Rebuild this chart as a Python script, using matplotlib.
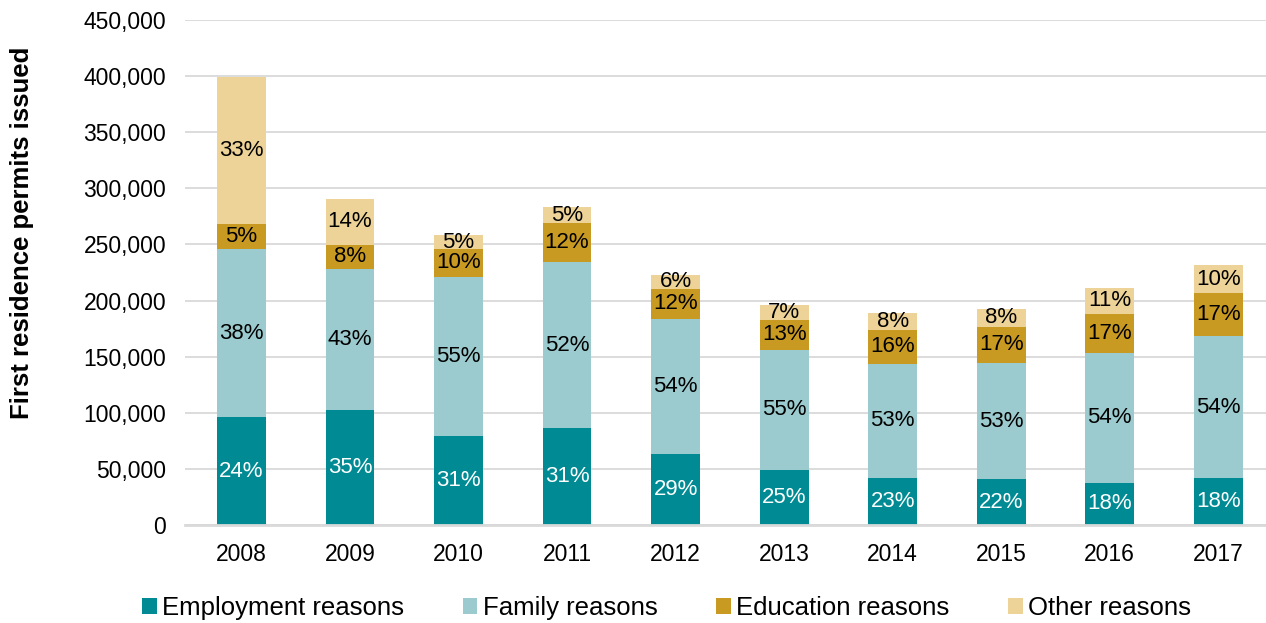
import matplotlib
matplotlib.use("Agg")
import matplotlib.pyplot as plt
from matplotlib.patches import Patch
from matplotlib.ticker import FuncFormatter
import numpy as np

plt.rcParams['font.family'] = ['Liberation Sans', 'DejaVu Sans']

years = ['2008', '2009', '2010', '2011', '2012', '2013', '2014', '2015', '2016', '2017']
series_names = ['Employment reasons', 'Family reasons', 'Education reasons', 'Other reasons']

employment = [95800, 102300, 78900, 86000, 63500, 49100, 42300, 40800, 37500, 42000]
family = [150500, 125900, 142500, 148500, 120100, 107150, 101450, 103200, 115800, 126200]
education = [21500, 21500, 24400, 34800, 26800, 26150, 29750, 32800, 35100, 38900]
other = [131800, 41200, 12200, 13700, 12800, 13700, 15800, 16100, 23200, 24200]

employment_pct = ['24%', '35%', '31%', '31%', '29%', '25%', '23%', '22%', '18%', '18%']
family_pct = ['38%', '43%', '55%', '52%', '54%', '55%', '53%', '53%', '54%', '54%']
education_pct = ['5%', '8%', '10%', '12%', '12%', '13%', '16%', '17%', '17%', '17%']
other_pct = ['33%', '14%', '5%', '5%', '6%', '7%', '8%', '8%', '11%', '10%']

colors = ['#008B94', '#9BCBCE', '#C89A22', '#EDD397']
label_colors = ['white', 'black', 'black', 'black']

fig = plt.figure(figsize=(12.66, 6.23), dpi=100)
ax = fig.add_axes([185/1266, 98/623, 1 - 185/1266, 505/623])

x = np.arange(len(years))
width = 0.45
bottom = np.zeros(len(years))
all_series = [employment, family, education, other]
all_pcts = [employment_pct, family_pct, education_pct, other_pct]
for vals, pcts, c, lc in zip(all_series, all_pcts, colors, label_colors):
    vals = np.array(vals, dtype=float)
    ax.bar(x, vals, width, bottom=bottom, color=c, zorder=3)
    for xi, b, v, p in zip(x, bottom, vals, pcts):
        ax.text(xi, b + v / 2, p, ha='center', va='center', color=lc,
                fontsize=16, zorder=4)
    bottom += vals

ax.set_ylim(0, 450000)
ax.set_xlim(-0.52, 9.44)
ax.set_yticks(np.arange(0, 450001, 50000))
ax.yaxis.set_major_formatter(FuncFormatter(lambda v, _: f"{int(v):,}"))
ax.set_xticks(x)
ax.set_xticklabels(years)
ax.tick_params(axis='both', length=0, labelsize=16.5)
ax.tick_params(axis='y', pad=13.5)
ax.tick_params(axis='x', pad=13)
ax.grid(axis='y', color='#D9D9D9', linewidth=1.3, zorder=0)
for s in ['top', 'right', 'left']:
    ax.spines[s].set_visible(False)
ax.spines['bottom'].set_color('#D9D9D9')
ax.spines['bottom'].set_linewidth(2)
ax.spines['bottom'].set_zorder(5)

fig.text(22/1266, 0.627, 'First residence permits issued', rotation=90,
         ha='center', va='center', fontsize=18.5, fontweight='bold')

handles = [Patch(facecolor=c, edgecolor='none') for c in colors]
fig.legend(handles, series_names, loc='center', bbox_to_anchor=(0.5265, 0.024),
           ncol=4, frameon=False, fontsize=18.5, handlelength=0.56, handleheight=0.56,
           handletextpad=0.2, columnspacing=2.3, borderaxespad=0, borderpad=0)

fig.savefig('out.png', dpi=100)
